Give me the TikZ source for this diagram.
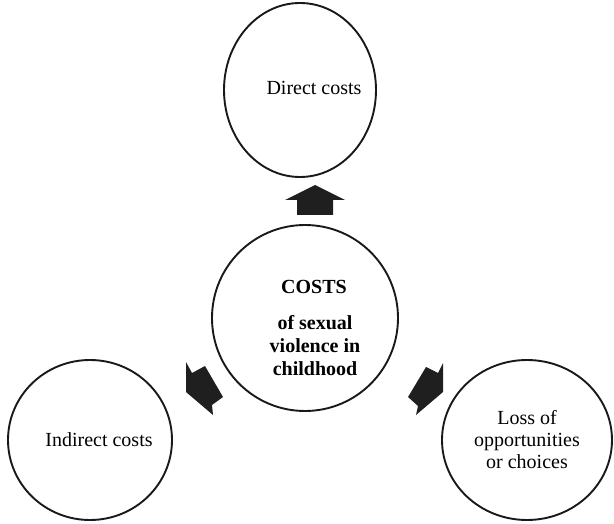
\documentclass[tikz,border=0pt]{standalone}
\usepackage{fontspec}
\setmainfont{Liberation Serif}
\usetikzlibrary{shapes.geometric}
\tikzset{
  bubble/.style={draw=black!90, line width=1.9pt, ellipse, inner sep=0pt, align=center,
    font=\fontsize{20}{23}\selectfont},
  fatarrow/.style={fill=black!88, draw=none}
}
\begin{document}
\begin{tikzpicture}[x=1pt,y=-1pt]
\useasboundingbox (0,0) rectangle (614,524);
\node[bubble, minimum width=152pt, minimum height=174pt] (direct) at (300,90) {};
\node[font=\fontsize{20}{23}\selectfont] (directtxt) at (314,88) {Direct costs};
\node[bubble, minimum width=186pt, minimum height=186pt] (center) at (305,318) {};
\node[font=\fontsize{20}{23}\selectfont\bfseries, align=center] (ctitle) at (314,287) {COSTS};
\node[font=\fontsize{20}{23}\selectfont\bfseries, align=center] (ctext) at (315,346) {of sexual\\violence in\\childhood};
\node[bubble, minimum width=164pt, minimum height=160pt] (indirect) at (90,440) {};
\node[font=\fontsize{20}{23}\selectfont] (indtxt) at (99,440) {Indirect costs};
\node[bubble, minimum width=170pt, minimum height=160pt] (loss) at (527,440) {};
\node[font=\fontsize{20}{22}\selectfont, align=center] (losstxt) at (527,440) {Loss of\\opportunities\\or choices};
\fill[fatarrow] (315,185) -- (345,200) -- (333,200) -- (333,215) -- (297,215) -- (297,200) -- (285,200) -- cycle;
\fill[fatarrow] (186,362) -- (192,373) -- (205,366) -- (223,397) -- (212,405) -- (213,415) -- (186,392) -- cycle;
\fill[fatarrow] (443,363) -- (438,373) -- (426,367) -- (408,397) -- (418,406) -- (416,415) -- (443,392) -- cycle;
\end{tikzpicture}
\end{document}
